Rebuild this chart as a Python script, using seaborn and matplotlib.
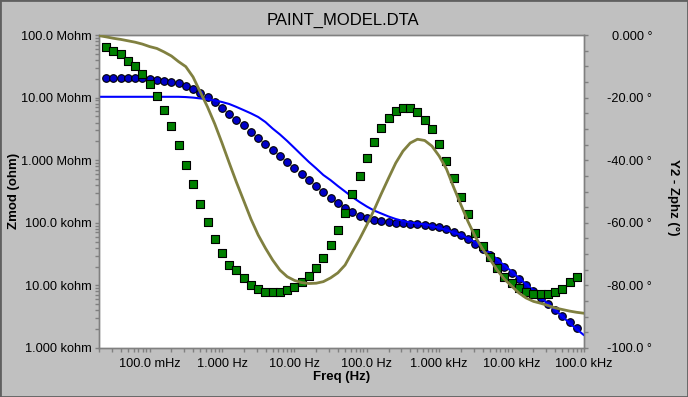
import matplotlib
matplotlib.use("Agg")
import matplotlib.pyplot as plt
import seaborn as sns
import pandas as pd
from matplotlib.ticker import LogLocator, NullFormatter, FixedLocator
from matplotlib.patches import Rectangle

# ---------------- data ----------------
title = "PAINT_MODEL.DTA"
x_label = "Freq (Hz)"
y_label = "Zmod (ohm)"
y2_label = "Y2 - Zphz (°)"

# measured points (Hz)
freq_pts = [0.0251, 0.0316, 0.0398, 0.0501, 0.0631, 0.0794,
            0.1, 0.126, 0.158, 0.2, 0.251, 0.316, 0.398, 0.501, 0.631, 0.794,
            1.0, 1.26, 1.58, 2.0, 2.51, 3.16, 3.98, 5.01, 6.31, 7.94,
            10, 12.6, 15.8, 20, 25.1, 31.6, 39.8, 50.1, 63.1, 79.4,
            100, 126, 158, 200, 251, 316, 398, 501, 631, 794,
            1000, 1260, 1580, 2000, 2510, 3160, 3980, 5010, 6310, 7940,
            10000, 12600, 15800, 20000, 25100, 31600, 39800, 50100, 63100, 79400]

zmod_pts = [2.03e7, 2.03e7, 2.03e7, 2.03e7, 2.03e7, 2.03e7,
            1.96e7, 1.93e7, 1.86e7, 1.80e7, 1.69e7, 1.53e7, 1.36e7, 1.18e7, 1.01e7, 8.5e6,
            6.82e6, 5.41e6, 4.43e6, 3.61e6, 2.82e6, 2.24e6, 1.79e6, 1.47e6, 1.17e6, 9.35e5,
            7.50e5, 6.03e5, 4.83e5, 3.87e5, 3.10e5, 2.46e5, 2.05e5, 1.71e5, 1.47e5, 1.30e5,
            1.19e5, 1.12e5, 1.07e5, 1.02e5, 9.93e4, 9.82e4, 9.57e4, 9.46e4, 9.12e4, 8.89e4,
            8.47e4, 7.87e4, 7.21e4, 6.31e4, 5.57e4, 4.67e4, 3.81e4, 3.06e4, 2.45e4, 1.95e4,
            1.56e4, 1.25e4, 1.00e4, 8.15e3, 6.37e3, 5.05e3, 4.05e3, 3.21e3, 2.60e3, 2.07e3]

phase_pts = [-3.9, -5.0, -6.2, -8.2, -10.0, -12.6,
             -15.8, -19.6, -24.1, -29.2, -35.2, -41.6, -47.7, -54.1, -59.7, -65.3,
             -69.7, -73.6, -75.2, -77.7, -80.0, -81.2, -82.2, -82.2, -82.2, -81.6,
             -80.6, -79.0, -77.1, -74.5, -71.3, -67.2, -62.3, -57.0, -50.8, -45.1,
             -39.4, -34.3, -29.8, -26.6, -24.4, -23.4, -23.4, -24.7, -27.3, -30.1,
             -34.9, -40.4, -45.8, -51.9, -57.3, -63.4, -67.4, -71.0, -74.5, -77.4,
             -79.3, -80.9, -82.1, -82.8, -82.8, -82.8, -82.2, -81.2, -79.0, -77.4]

# fitted model curves (Hz)
freq_fit = [0.02, 0.0251, 0.0316, 0.0398, 0.0501, 0.0631, 0.0794,
            0.1, 0.126, 0.158, 0.2, 0.251, 0.316, 0.398, 0.501, 0.631, 0.794,
            1.0, 1.26, 1.58, 2.0, 2.51, 3.16, 3.98, 5.01, 6.31, 7.94,
            10, 12.6, 15.8, 20, 25.1, 31.6, 39.8, 50.1, 63.1, 79.4,
            100, 126, 158, 200, 251, 316, 398, 501, 631, 794,
            1000, 1260, 1580, 2000, 2510, 3160, 3980, 5010, 6310, 7940,
            10000, 12600, 15800, 20000, 25100, 31600, 39800, 50100, 63100, 79400,
            100000]

zmod_fit = [1.03e7, 1.03e7, 1.03e7, 1.03e7, 1.03e7, 1.03e7, 1.03e7,
            1.03e7, 1.03e7, 1.03e7, 1.03e7, 1.03e7, 1.02e7, 1.00e7, 9.7e6, 9.4e6, 9.0e6,
            8.5e6, 7.9e6, 7.1e6, 6.3e6, 5.6e6, 4.9e6, 4.07e6, 3.2e6, 2.58e6, 2.03e6,
            1.57e6, 1.21e6, 9.4e5, 7.4e5, 5.8e5, 4.8e5, 3.87e5, 3.16e5, 2.58e5, 2.15e5,
            1.82e5, 1.57e5, 1.41e5, 1.26e5, 1.15e5, 1.07e5, 1.01e5, 9.75e4, 9.4e4, 8.9e4,
            8.3e4, 7.7e4, 7.0e4, 6.4e4, 5.6e4, 4.9e4, 4.1e4, 3.3e4, 2.6e4, 2.08e4,
            1.67e4, 1.31e4, 1.05e4, 8.3e3, 6.5e3, 5.1e3, 4.05e3, 3.2e3, 2.5e3, 2.0e3,
            1.6e3]

phase_fit = [-0.2, -0.6, -1.05, -1.4, -1.85, -2.3, -2.9,
             -3.7, -4.3, -5.4, -6.7, -8.5, -10.1, -13.4, -18.2, -23.0, -28.4,
             -34.5, -40.9, -47.0, -53.0, -58.8, -63.9, -68.1, -71.9, -75.1, -77.2,
             -78.4, -79.1, -79.4, -79.3, -78.8, -77.6, -76.0, -73.5, -69.3, -65.2,
             -60.7, -55.9, -50.8, -45.7, -40.9, -37.1, -34.5, -33.3, -33.7, -35.5,
             -38.7, -42.8, -48.6, -54.3, -59.7, -64.5, -68.4, -71.6, -75.1, -78.0,
             -80.2, -82.4, -84.0, -85.1, -85.7, -86.4, -87.2, -87.7, -88.2, -88.6,
             -88.9]

x_ticks = [0.1, 1, 10, 100, 1000, 10000, 100000]
x_tick_labels = ["100.0 mHz", "1.000 Hz", "10.00 Hz", "100.0 Hz",
                 "1.000 kHz", "10.00 kHz", "100.0 kHz"]
y_ticks = [1e3, 1e4, 1e5, 1e6, 1e7, 1e8]
y_tick_labels = ["1.000 kohm", "10.00 kohm", "100.0 kohm",
                 "1.000 Mohm", "10.00 Mohm", "100.0 Mohm"]
y2_ticks = [0, -20, -40, -60, -80, -100]
y2_tick_labels = ["0.000 °", "-20.00 °", "-40.00 °", "-60.00 °", "-80.00 °", "-100.0 °"]
y2_minor = [-5, -10, -15, -25, -30, -35, -45, -50, -55, -65, -70, -75, -85, -90, -95]

# ---------------- styling ----------------
sns.set_theme(style="ticks")
plt.rcParams['font.family'] = ['Liberation Sans', 'DejaVu Sans']
plt.rcParams['text.color'] = 'black'

BG = '#C0C0C0'
GRAY = '#808080'

fig = plt.figure(figsize=(6.88, 3.97), dpi=100, facecolor=BG)
ax = fig.add_axes([99/688, 1-348/397, 485/688, 313/397])
ax.set_facecolor('white')
ax.set_xscale('log')
ax.set_yscale('log')
ax2 = ax.twinx()

pts = pd.DataFrame({'freq': freq_pts, 'zmod': zmod_pts, 'phase': phase_pts})
fit = pd.DataFrame({'freq': freq_fit, 'zmod': zmod_fit, 'phase': phase_fit})

sns.scatterplot(data=pts, x='freq', y='zmod', ax=ax, marker='o', s=30,
                color='#0000C8', edgecolor='black', linewidth=0.8, zorder=3, legend=False)
sns.lineplot(data=fit, x='freq', y='zmod', ax=ax, color='#0000FF', linewidth=1.5,
             estimator=None, sort=False, zorder=4, legend=False)

sns.scatterplot(data=pts, x='freq', y='phase', ax=ax2, marker='s', s=26,
                color='#008000', edgecolor='black', linewidth=0.8, zorder=3, legend=False)
sns.lineplot(data=fit, x='freq', y='phase', ax=ax2, color='#808040', linewidth=2.0,
             estimator=None, sort=False, zorder=4, legend=False)

ax.set_xticks(x_ticks)
ax.set_xticklabels(x_tick_labels)
ax.xaxis.set_minor_locator(LogLocator(base=10, subs=range(2, 10), numticks=100))
ax.xaxis.set_minor_formatter(NullFormatter())
ax.set_yticks(y_ticks)
ax.set_yticklabels(y_tick_labels)
ax.yaxis.set_minor_locator(LogLocator(base=10, subs=range(2, 10), numticks=100))
ax.yaxis.set_minor_formatter(NullFormatter())
ax.set_xlim(0.02, 1e5)
ax.set_ylim(1e3, 1e8)

ax2.set_yticks(y2_ticks)
ax2.set_yticklabels(y2_tick_labels)
ax2.yaxis.set_minor_locator(FixedLocator(y2_minor))
ax2.set_ylim(-100, 0)

ax.set_xlabel('')
ax.set_ylabel('')
ax2.set_ylabel('')

for a in (ax, ax2):
    for sp in a.spines.values():
        sp.set_color(GRAY)
        sp.set_linewidth(1)

ax.tick_params(axis='both', which='both', direction='out', length=3, width=1,
               color=GRAY, labelsize=9.2, labelcolor='black')
ax.tick_params(axis='x', which='both', pad=4)
ax.tick_params(axis='y', which='both', pad=2)
ax2.tick_params(axis='y', which='both', direction='out', length=3, width=1,
                color=GRAY, labelsize=9.2, labelcolor='black', pad=46)
for lab in ax2.get_yticklabels():
    lab.set_horizontalalignment('right')

fig.text(343/688, 1-20/397, title, ha='center', va='center', fontsize=12, color='black')
fig.text(342/688, 1-377/397, x_label, ha='center', va='center', fontsize=9.5,
         fontweight='bold', color='black')
fig.text(14/688, 1-191/397, y_label, ha='center', va='center', rotation=90,
         fontsize=9.5, fontweight='bold', color='black')
fig.text(673/688, 1-197/397, y2_label, ha='center', va='center', rotation=270,
         fontsize=9.5, fontweight='bold', color='black')

fig.patches.append(Rectangle((0, 0), 1, 1, transform=fig.transFigure, fill=False,
                             edgecolor='#606060', linewidth=2))

fig.savefig('out.png', dpi=100, facecolor=fig.get_facecolor())
